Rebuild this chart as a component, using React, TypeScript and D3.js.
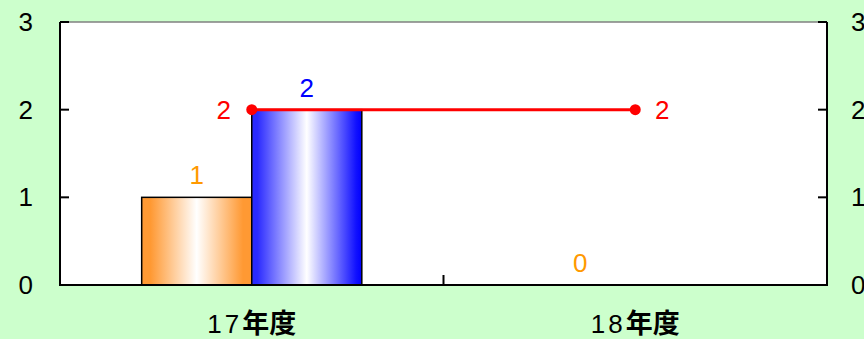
import React from "react";
import * as d3 from "d3";

// Categories (fiscal years) and series values
const categories = ["17年度", "18年度"];
const orangeValues: (number | null)[] = [1, 0];
const blueValues: (number | null)[] = [2, null];
const redLineValues: number[] = [2, 2];
const yTicks = [0, 1, 2, 3];

const W = 864;
const H = 339;
const plot = { left: 60, right: 827, top: 22, bottom: 285 };
const FONT = "'Liberation Sans', Arial, 'Noto Sans CJK JP', sans-serif";
const FS = 26;

export default function App() {
  const x = d3
    .scaleBand<string>()
    .domain(categories)
    .range([plot.left, plot.right])
    .padding(0);
  const bw = x.bandwidth();
  const groupW = bw * 0.574;
  const x1 = d3
    .scaleBand<string>()
    .domain(["orange", "blue"])
    .range([(bw - groupW) / 2, (bw + groupW) / 2])
    .padding(0);
  const y = d3.scaleLinear().domain([0, 3]).range([plot.bottom, plot.top]);

  const cx = (c: string) => (x(c) as number) + bw / 2;

  const line = d3
    .line<number>()
    .x((_, i) => cx(categories[i]))
    .y((d) => y(d));

  const barSeries = [
    { key: "orange", values: orangeValues, grad: "gOrange", label: "#FF9900" },
    { key: "blue", values: blueValues, grad: "gBlue", label: "#0000FF" },
  ];

  const bottomTicks = d3.range(categories.length + 1).map((i) => plot.left + i * bw);

  return (
    <svg
      width={W}
      height={H}
      style={{ position: "absolute", left: 0, top: 0 }}
      fontFamily={FONT}
    >
      <defs>
        <linearGradient id="gOrange" x1="0" x2="1" y1="0" y2="0">
          <stop offset="0" stopColor="#FF9933" />
          <stop offset="0.08" stopColor="#FF9933" />
          <stop offset="0.5" stopColor="#FFFFFF" />
          <stop offset="0.92" stopColor="#FF9933" />
          <stop offset="1" stopColor="#FF9933" />
        </linearGradient>
        <linearGradient id="gBlue" x1="0" x2="1" y1="0" y2="0">
          <stop offset="0" stopColor="#2A2AFF" />
          <stop offset="0.05" stopColor="#2A2AFF" />
          <stop offset="0.5" stopColor="#FFFFFF" />
          <stop offset="0.95" stopColor="#1010FF" />
          <stop offset="1" stopColor="#0000FF" />
        </linearGradient>
      </defs>
      <rect x={0} y={0} width={W} height={H} fill="#CCFFCC" />
      <rect
        x={plot.left}
        y={plot.top}
        width={plot.right - plot.left}
        height={plot.bottom - plot.top}
        fill="#FFFFFF"
      />
      {/* top border */}
      <line x1={plot.left} x2={plot.right} y1={plot.top} y2={plot.top} stroke="#808080" strokeWidth={1.5} />

      {/* bars */}
      {barSeries.map((s) =>
        s.values.map((v, i) => {
          if (v === null) return null;
          const c = categories[i];
          const bx = (x(c) as number) + (x1(s.key) as number);
          const w = x1.bandwidth();
          return (
            <g key={s.key + i}>
              {v > 0 && (
                <rect
                  x={bx}
                  y={y(v)}
                  width={w}
                  height={y(0) - y(v)}
                  fill={`url(#${s.grad})`}
                  stroke="#000"
                  strokeWidth={1.5}
                />
              )}
              <text
                x={bx + w / 2}
                y={y(v) - 13}
                textAnchor="middle"
                fontSize={FS}
                fill={s.label}
              >
                {v}
              </text>
            </g>
          );
        })
      )}

      {/* axes */}
      <line x1={plot.left} x2={plot.left} y1={plot.top} y2={plot.bottom} stroke="#000" strokeWidth={2} />
      <line x1={plot.right} x2={plot.right} y1={plot.top} y2={plot.bottom} stroke="#000" strokeWidth={2} />
      <line x1={plot.left - 1} x2={plot.right + 1} y1={plot.bottom} y2={plot.bottom} stroke="#000" strokeWidth={2} />
      {yTicks.map((t) => (
        <g key={t}>
          <line x1={plot.left} x2={plot.left + 9} y1={y(t)} y2={y(t)} stroke="#000" strokeWidth={2} />
          <line x1={plot.right - 9} x2={plot.right} y1={y(t)} y2={y(t)} stroke="#000" strokeWidth={2} />
          <text x={33} y={y(t) + 9} textAnchor="end" fontSize={FS} fill="#000">
            {t}
          </text>
          <text x={851} y={y(t) + 9} textAnchor="start" fontSize={FS} fill="#000">
            {t}
          </text>
        </g>
      ))}
      {bottomTicks.map((bx, i) => (
        <line key={i} x1={bx} x2={bx} y1={plot.bottom} y2={plot.bottom - 10} stroke="#000" strokeWidth={2} />
      ))}
      {categories.map((c) => {
        const num = c.replace("年度", "");
        return (
          <text key={c} x={cx(c)} y={333} textAnchor="middle" fontSize={FS} fill="#000">
            <tspan letterSpacing={3}>{num}</tspan>
            <tspan fontSize={27} fontWeight={700} fontFamily="'Noto Sans CJK JP', sans-serif">
              年度
            </tspan>
          </text>
        );
      })}

      {/* red line series */}
      <path d={line(redLineValues) || ""} fill="none" stroke="#FF0000" strokeWidth={3} />
      {redLineValues.map((v, i) => {
        const px = cx(categories[i]);
        const left = i === 0;
        return (
          <g key={i}>
            <circle cx={px} cy={y(v)} r={5.5} fill="#FF0000" />
            <text
              x={left ? px - 28 : px + 27}
              y={y(v) + 9}
              textAnchor="middle"
              fontSize={FS}
              fill="#FF0000"
            >
              {v}
            </text>
          </g>
        );
      })}
    </svg>
  );
}
